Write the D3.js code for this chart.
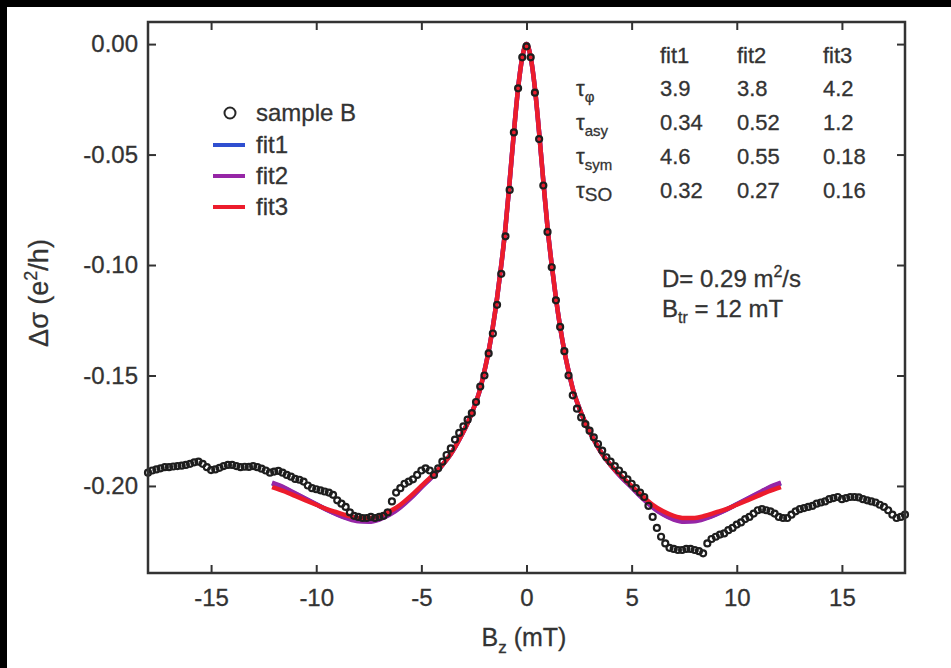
<!DOCTYPE html>
<html>
<head>
<meta charset="utf-8">
<script src="https://cdn.jsdelivr.net/npm/d3@7"></script>
<style>
  body { margin: 0; background: #fff; }
  svg { display: block; }
  text { font-family: "Liberation Sans", Arial, sans-serif; fill: #333; stroke: #333; stroke-width: 0.3px; }
</style>
</head>
<body>
<svg id="chart" width="951" height="668"></svg>
<script>
// measured field grid, 0.2 mT step
var sampleField = d3.range(-18, 18.001, 0.2);
// sample B, delta sigma (e^2/h)
var sampleSigma = [
  -0.1940, -0.1930, -0.1925, -0.1920, -0.1915, -0.1915, -0.1912, -0.1910, -0.1908, -0.1905,
  -0.1900, -0.1893, -0.1890, -0.1900, -0.1915, -0.1928, -0.1925, -0.1918, -0.1910, -0.1905,
  -0.1905, -0.1910, -0.1915, -0.1913, -0.1914, -0.1910, -0.1915, -0.1922, -0.1930, -0.1940,
  -0.1935, -0.1932, -0.1940, -0.1950, -0.1958, -0.1968, -0.1972, -0.1980, -0.1998, -0.2010,
  -0.2015, -0.2020, -0.2025, -0.2030, -0.2040, -0.2065, -0.2080, -0.2095, -0.2120, -0.2135,
  -0.2140, -0.2145, -0.2145, -0.2140, -0.2145, -0.2140, -0.2135, -0.2120, -0.2070, -0.2030,
  -0.2010, -0.1990, -0.1980, -0.1970, -0.1950, -0.1930, -0.1920, -0.1930, -0.1950, -0.1920,
  -0.1890, -0.1860, -0.1830, -0.1790, -0.1760, -0.1730, -0.1700, -0.1670, -0.1620, -0.1550,
  -0.1500, -0.1400, -0.1310, -0.1180, -0.1040, -0.0870, -0.0660, -0.0400, -0.0200, -0.0060,
  -0.0010, -0.0060, -0.0220, -0.0430, -0.0640, -0.0850, -0.1010, -0.1160, -0.1280, -0.1390,
  -0.1500, -0.1590, -0.1650, -0.1690, -0.1720, -0.1750, -0.1780, -0.1810, -0.1840, -0.1870,
  -0.1890, -0.1910, -0.1930, -0.1950, -0.1970, -0.1990, -0.2010, -0.2030, -0.2050, -0.2090,
  -0.2140, -0.2190, -0.2230, -0.2260, -0.2280, -0.2285, -0.2290, -0.2290, -0.2285, -0.2285,
  -0.2290, -0.2295, -0.2305, -0.2260, -0.2240, -0.2230, -0.2220, -0.2215, -0.2200, -0.2190,
  -0.2175, -0.2165, -0.2150, -0.2140, -0.2125, -0.2110, -0.2105, -0.2110, -0.2115, -0.2125,
  -0.2140, -0.2145, -0.2145, -0.2130, -0.2115, -0.2105, -0.2100, -0.2095, -0.2090, -0.2080,
  -0.2075, -0.2070, -0.2060, -0.2055, -0.2050, -0.2060, -0.2055, -0.2050, -0.2050, -0.2052,
  -0.2060, -0.2065, -0.2070, -0.2075, -0.2085, -0.2095, -0.2110, -0.2130, -0.2145, -0.2140,
  -0.2130
];

var fitField = [-12.1, -11.5, -11, -10.5, -10, -9.5, -9, -8.5, -8, -7.5, -7, -6.5, -6, -5.5, -5, -4.5,
  -4, -3.6, -3.2, -2.8, -2.5, -2.2, -2, -1.8, -1.6, -1.4, -1.2, -1, -0.8, -0.6, -0.4, -0.2, 0,
  0.2, 0.4, 0.6, 0.8, 1, 1.2, 1.4, 1.6, 1.8, 2, 2.2, 2.5, 2.8, 3.2, 3.6, 4,
  4.5, 5, 5.5, 6, 6.5, 7, 7.5, 8, 8.5, 9, 9.5, 10, 10.5, 11, 11.5, 12.1];
var fit1 = [-0.1988, -0.2011, -0.2035, -0.2059, -0.2083, -0.2107, -0.2128, -0.2146, -0.2157, -0.2159, -0.2149, -0.2127, -0.2094, -0.2052, -0.2005, -0.1958,
  -0.1905, -0.1855, -0.179, -0.1715, -0.1645, -0.156, -0.148, -0.139, -0.128, -0.115, -0.100, -0.083, -0.062, -0.040, -0.020, -0.006, 0,
  -0.006, -0.020, -0.040, -0.062, -0.083, -0.100, -0.115, -0.128, -0.139, -0.148, -0.156, -0.1645, -0.1715, -0.179, -0.1855, -0.1905,
  -0.1958, -0.2005, -0.2052, -0.2094, -0.2127, -0.2149, -0.2159, -0.2157, -0.2146, -0.2128, -0.2107, -0.2083, -0.2059, -0.2035, -0.2011, -0.1988];
var fit2 = [-0.1985, -0.2008, -0.2033, -0.2058, -0.2083, -0.2108, -0.2130, -0.2148, -0.2160, -0.2162, -0.2152, -0.2130, -0.2097, -0.2055, -0.2007, -0.1960,
  -0.1905, -0.1855, -0.179, -0.1715, -0.1645, -0.156, -0.148, -0.139, -0.128, -0.115, -0.100, -0.083, -0.062, -0.040, -0.020, -0.006, 0,
  -0.006, -0.020, -0.040, -0.062, -0.083, -0.100, -0.115, -0.128, -0.139, -0.148, -0.156, -0.1645, -0.1715, -0.179, -0.1855, -0.1905,
  -0.1960, -0.2007, -0.2055, -0.2097, -0.2130, -0.2152, -0.2162, -0.2160, -0.2148, -0.2130, -0.2108, -0.2083, -0.2058, -0.2033, -0.2008, -0.1985];
var fit3 = [-0.2005, -0.2025, -0.2045, -0.2065, -0.2085, -0.2105, -0.2120, -0.2135, -0.2145, -0.2145, -0.2135, -0.2115, -0.2085, -0.2045, -0.2000, -0.1955,
  -0.1905, -0.1855, -0.179, -0.1715, -0.1645, -0.156, -0.148, -0.139, -0.128, -0.115, -0.100, -0.083, -0.062, -0.040, -0.020, -0.006, 0,
  -0.006, -0.020, -0.040, -0.062, -0.083, -0.100, -0.115, -0.128, -0.139, -0.148, -0.156, -0.1645, -0.1715, -0.179, -0.1855, -0.1905,
  -0.1955, -0.2000, -0.2045, -0.2085, -0.2115, -0.2135, -0.2145, -0.2145, -0.2135, -0.2120, -0.2105, -0.2085, -0.2065, -0.2045, -0.2025, -0.2005];

var xTicks = [-15, -10, -5, 0, 5, 10, 15];
var yTicks = [0, -0.05, -0.10, -0.15, -0.20];

// parameter table
var fitNames = ["fit1", "fit2", "fit3"];
var tauNames = [["τ", "φ"], ["τ", "asy"], ["τ", "sym"], ["τ", "SO"]];
var tauPhi = ["3.9", "3.8", "4.2"];
var tauAsy = ["0.34", "0.52", "1.2"];
var tauSym = ["4.6", "0.55", "0.18"];
var tauSO = ["0.32", "0.27", "0.16"];

var fitColors = ["#2f4fd0", "#9626a6", "#ec1c2c"];

var svg = d3.select("#chart");
var W = 951, H = 668;
var m = {left: 148, top: 22, right: 46, bottom: 95};

// black frame from the scan
svg.append("rect").attr("x", 0).attr("y", 0).attr("width", W).attr("height", 7).attr("fill", "#000");
svg.append("rect").attr("x", 0).attr("y", 0).attr("width", 7).attr("height", H).attr("fill", "#000");

var x = d3.scaleLinear().domain([-18, 18]).range([m.left, W - m.right]);
var y = d3.scaleLinear().domain([-0.2394, 0.01]).range([H - m.bottom, m.top]);

// plain hyphen minus like the original
function hy(f) { return function(d) { return f(d).replace("\u2212", "-"); }; }

function styleAxis(g) {
  g.select(".domain").remove();
  g.selectAll(".tick line").attr("stroke", "#333").attr("stroke-width", 2);
  g.selectAll(".tick text").attr("fill", "#333").style("font-size", "24px");
}

svg.append("g").attr("transform", "translate(0," + (H - m.bottom) + ")")
  .call(d3.axisBottom(x).tickValues(xTicks).tickSizeInner(-8).tickSizeOuter(0).tickPadding(16)
    .tickFormat(hy(d3.format("d"))))
  .call(styleAxis);
svg.append("g").attr("transform", "translate(0," + m.top + ")")
  .call(d3.axisTop(x).tickValues(xTicks).tickSizeInner(-8).tickSizeOuter(0).tickFormat(""))
  .call(styleAxis);
svg.append("g").attr("transform", "translate(" + m.left + ",0)")
  .call(d3.axisLeft(y).tickValues(yTicks).tickSizeInner(-8).tickSizeOuter(0).tickPadding(10)
    .tickFormat(hy(d3.format(".2f"))))
  .call(styleAxis);
svg.append("g").attr("transform", "translate(" + (W - m.right) + ",0)")
  .call(d3.axisRight(y).tickValues(yTicks).tickSizeInner(-8).tickSizeOuter(0).tickFormat(""))
  .call(styleAxis);

// fits
var fits = [fit1, fit2, fit3];
var line = d3.line().curve(d3.curveMonotoneX)
  .x(function(d) { return x(d[0]); })
  .y(function(d) { return y(d[1]); });
fits.forEach(function(f, i) {
  svg.append("path")
    .datum(fitField.map(function(b, j) { return [b, f[j]]; }))
    .attr("d", line)
    .attr("fill", "none")
    .attr("stroke", fitColors[i])
    .attr("stroke-width", 4.5);
});

// sample B
svg.append("g").selectAll("circle")
  .data(sampleField.map(function(b, i) { return [b, sampleSigma[i]]; }))
  .enter().append("circle")
  .attr("cx", function(d) { return x(d[0]); })
  .attr("cy", function(d) { return y(d[1]); })
  .attr("r", 3)
  .attr("fill", "none")
  .attr("stroke", "#1e1e1e")
  .attr("stroke-width", 2.2);

// frame
svg.append("rect")
  .attr("x", m.left).attr("y", m.top)
  .attr("width", W - m.left - m.right).attr("height", H - m.top - m.bottom)
  .attr("fill", "none").attr("stroke", "#333").attr("stroke-width", 2.5);

// axis titles
svg.append("text")
  .attr("x", 524).attr("y", 646)
  .attr("text-anchor", "middle").style("font-size", "25px")
  .call(function(t) {
    t.append("tspan").text("B");
    t.append("tspan").attr("dy", 7).style("font-size", "17px").text("z");
    t.append("tspan").attr("dy", -7).text(" (mT)");
  });
svg.append("text")
  .attr("transform", "translate(48,293) rotate(-90)")
  .attr("text-anchor", "middle").style("font-size", "27px")
  .call(function(t) {
    t.append("tspan").text("Δσ (e");
    t.append("tspan").attr("dy", -11).style("font-size", "18px").text("2");
    t.append("tspan").attr("dy", 11).text("/h)");
  });

// legend
var leg = svg.append("g");
leg.append("circle").attr("cx", 230).attr("cy", 113).attr("r", 5.5)
  .attr("fill", "none").attr("stroke", "#262626").attr("stroke-width", 2);
leg.append("text").attr("x", 256).attr("y", 113).attr("dy", "0.35em")
  .style("font-size", "24px").text("sample B");
fitNames.forEach(function(n, i) {
  var ly = 145 + i * 31;
  leg.append("line").attr("x1", 213).attr("x2", 245).attr("y1", ly).attr("y2", ly)
    .attr("stroke", fitColors[i]).attr("stroke-width", 4);
  leg.append("text").attr("x", 256).attr("y", ly).attr("dy", "0.35em")
    .style("font-size", "24px").text(n);
});

// parameter table
var colX = [660, 737, 823];
var rowY = [88, 122, 156, 190];
var tab = svg.append("g").style("font-size", "22px");
fitNames.forEach(function(n, i) {
  tab.append("text").attr("x", colX[i]).attr("y", 55).attr("dy", "0.35em").text(n);
});
var tauVals = [tauPhi, tauAsy, tauSym, tauSO];
tauNames.forEach(function(tn, r) {
  var t = tab.append("text").attr("x", 576).attr("y", rowY[r]).attr("dy", "0.35em");
  t.append("tspan").text(tn[0]);
  t.append("tspan").attr("dy", tn[1] === "SO" ? 3 : 6).style("font-size", tn[1] === "SO" ? "19px" : "15px").text(tn[1]);
  tauVals[r].forEach(function(v, i) {
    tab.append("text").attr("x", colX[i]).attr("y", rowY[r]).attr("dy", "0.35em").text(v);
  });
});

// D and B_tr
var ann = svg.append("g").style("font-size", "24px");
ann.append("text").attr("x", 662).attr("y", 287)
  .call(function(t) {
    t.append("tspan").text("D= 0.29 m");
    t.append("tspan").attr("dy", -10).style("font-size", "16px").text("2");
    t.append("tspan").attr("dy", 10).text("/s");
  });
ann.append("text").attr("x", 662).attr("y", 317)
  .call(function(t) {
    t.append("tspan").text("B");
    t.append("tspan").attr("dy", 6).style("font-size", "16px").text("tr");
    t.append("tspan").attr("dy", -6).text(" = 12 mT");
  });
</script>
</body>
</html>
